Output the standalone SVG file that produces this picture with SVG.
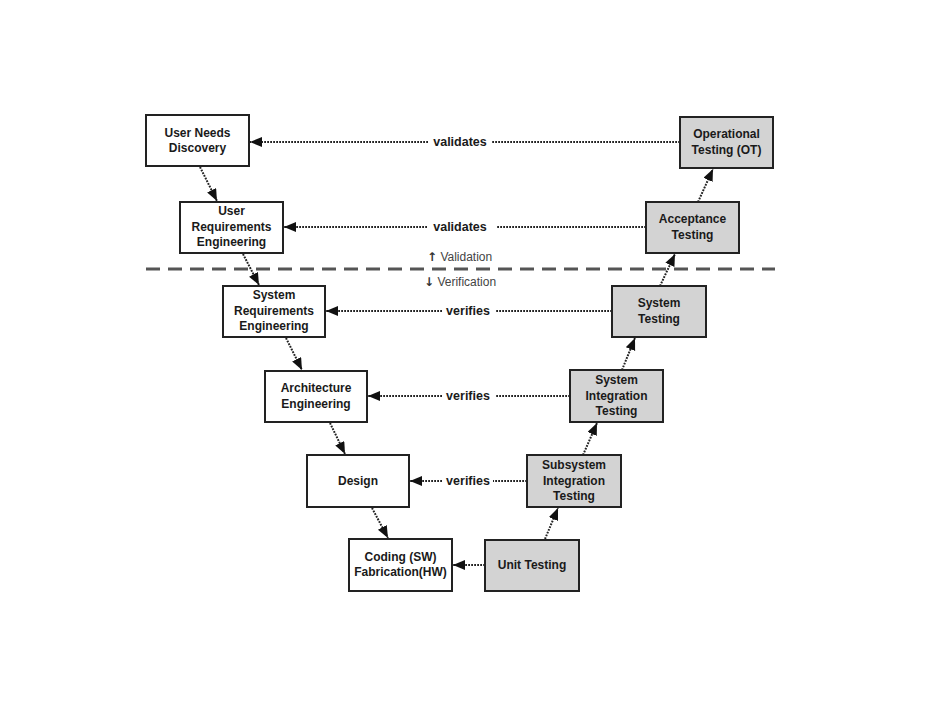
<svg xmlns="http://www.w3.org/2000/svg" width="931" height="720" viewBox="0 0 931 720">
<style>
.box{fill:#fff;stroke:#222;stroke-width:2}
.test{fill:#d3d3d3;stroke:#222;stroke-width:2}
.t{font-family:"Liberation Sans",Arial,sans-serif;font-size:12px;font-weight:bold;fill:#1a1a1a;text-anchor:middle}
.lbl{font-family:"Liberation Sans",Arial,sans-serif;font-size:12.5px;font-weight:bold;fill:#1a1a1a;text-anchor:middle}
.zone{font-family:"Liberation Sans",Arial,sans-serif;font-size:12px;fill:#444}
.arr{font-family:"DejaVu Sans",sans-serif;font-weight:bold;font-size:12px;fill:#333}
.c{fill:none;stroke:#222;stroke-width:2;stroke-dasharray:1.8 1.2}
</style>
<defs>
<marker id="ah" markerUnits="userSpaceOnUse" markerWidth="14" markerHeight="12" refX="12" refY="5" orient="auto">
<path d="M0,0 L12,5 L0,10 z" fill="#111"/>
</marker>
</defs>
<rect width="931" height="720" fill="#fff"/>

<g id="divider">
<line x1="146" y1="269" x2="775" y2="269" stroke="#555" stroke-width="3" stroke-dasharray="14 8"/>
<text class="zone" x="427" y="261"><tspan class="arr">↑</tspan> Validation</text>
<text class="zone" x="424" y="286"><tspan class="arr">↓</tspan> Verification</text>
</g>

<g id="connectors">
<line class="c" x1="680" y1="142" x2="492" y2="142"/>
<line class="c" x1="428" y1="142" x2="250" y2="142" marker-end="url(#ah)"/>
<text class="lbl" x="460" y="146">validates</text>
<line class="c" x1="646" y1="227" x2="496" y2="227"/>
<line class="c" x1="427" y1="227" x2="284" y2="227" marker-end="url(#ah)"/>
<text class="lbl" x="460" y="231">validates</text>
<line class="c" x1="612" y1="311" x2="495" y2="311"/>
<line class="c" x1="442" y1="311" x2="326" y2="311" marker-end="url(#ah)"/>
<text class="lbl" x="468" y="315">verifies</text>
<line class="c" x1="570" y1="396" x2="495" y2="396"/>
<line class="c" x1="442" y1="396" x2="368" y2="396" marker-end="url(#ah)"/>
<text class="lbl" x="468" y="400">verifies</text>
<line class="c" x1="527" y1="481" x2="493" y2="481"/>
<line class="c" x1="442" y1="481" x2="410" y2="481" marker-end="url(#ah)"/>
<text class="lbl" x="468" y="485">verifies</text>
<line class="c" x1="485" y1="565" x2="453" y2="565" marker-end="url(#ah)"/>

<line class="c" x1="200" y1="167" x2="217" y2="201" marker-end="url(#ah)"/>
<line class="c" x1="243" y1="254" x2="259" y2="285" marker-end="url(#ah)"/>
<line class="c" x1="286" y1="338" x2="302" y2="370" marker-end="url(#ah)"/>
<line class="c" x1="330" y1="423" x2="345" y2="454" marker-end="url(#ah)"/>
<line class="c" x1="372" y1="508" x2="388" y2="538" marker-end="url(#ah)"/>
<line class="c" x1="545" y1="539" x2="558" y2="508" marker-end="url(#ah)"/>
<line class="c" x1="583" y1="455" x2="597" y2="423" marker-end="url(#ah)"/>
<line class="c" x1="622" y1="370" x2="635" y2="338" marker-end="url(#ah)"/>
<line class="c" x1="660" y1="286" x2="675" y2="254" marker-end="url(#ah)"/>
<line class="c" x1="698" y1="202" x2="713" y2="169" marker-end="url(#ah)"/>
</g>

<g id="user-needs-discovery">
<rect class="box" x="146" y="115" width="103" height="51"/>
<text class="t" x="197.5" y="137">User Needs</text>
<text class="t" x="197.5" y="152">Discovery</text>
</g>
<g id="user-requirements-engineering">
<rect class="box" x="180" y="202" width="103" height="51"/>
<text class="t" x="231.5" y="215">User</text>
<text class="t" x="231.5" y="231">Requirements</text>
<text class="t" x="231.5" y="246">Engineering</text>
</g>
<g id="system-requirements-engineering">
<rect class="box" x="223" y="286" width="102" height="51"/>
<text class="t" x="274" y="299">System</text>
<text class="t" x="274" y="315">Requirements</text>
<text class="t" x="274" y="330">Engineering</text>
</g>
<g id="architecture-engineering">
<rect class="box" x="265" y="371" width="102" height="51"/>
<text class="t" x="316" y="392">Architecture</text>
<text class="t" x="316" y="408">Engineering</text>
</g>
<g id="design">
<rect class="box" x="307" y="455" width="102" height="52"/>
<text class="t" x="358" y="485">Design</text>
</g>
<g id="coding">
<rect class="box" x="349" y="539" width="103" height="52"/>
<text class="t" x="400.5" y="561">Coding (SW)</text>
<text class="t" x="400.5" y="576">Fabrication(HW)</text>
</g>

<g id="operational-testing">
<rect class="test" x="680" y="117" width="93" height="51"/>
<text class="t" x="726.5" y="138">Operational</text>
<text class="t" x="726.5" y="154">Testing (OT)</text>
</g>
<g id="acceptance-testing">
<rect class="test" x="646" y="202" width="93" height="51"/>
<text class="t" x="692.5" y="223">Acceptance</text>
<text class="t" x="692.5" y="239">Testing</text>
</g>
<g id="system-testing">
<rect class="test" x="612" y="286" width="94" height="51"/>
<text class="t" x="659" y="307">System</text>
<text class="t" x="659" y="323">Testing</text>
</g>
<g id="system-integration-testing">
<rect class="test" x="570" y="370" width="93" height="52"/>
<text class="t" x="616.5" y="384">System</text>
<text class="t" x="616.5" y="400">Integration</text>
<text class="t" x="616.5" y="415">Testing</text>
</g>
<g id="subsystem-integration-testing">
<rect class="test" x="527" y="455" width="94" height="52"/>
<text class="t" x="574" y="469">Subsystem</text>
<text class="t" x="574" y="485">Integration</text>
<text class="t" x="574" y="500">Testing</text>
</g>
<g id="unit-testing">
<rect class="test" x="485" y="540" width="94" height="51"/>
<text class="t" x="532" y="569">Unit Testing</text>
</g>
</svg>
